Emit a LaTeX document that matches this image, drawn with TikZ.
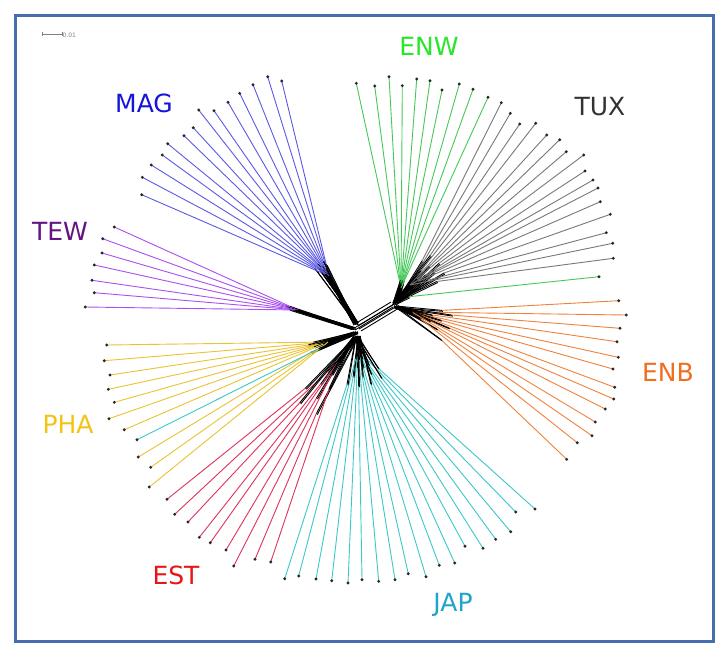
\documentclass[tikz,border=0pt]{standalone}
\usepackage{fontspec}
\setmainfont{DejaVu Sans}
\usetikzlibrary{calc}
\definecolor{magl}{RGB}{90,90,230}\definecolor{maglab}{RGB}{20,20,220}
\definecolor{tewl}{RGB}{170,80,240}\definecolor{tewlab}{RGB}{100,20,130}
\definecolor{enwl}{RGB}{70,200,90}\definecolor{enwlab}{RGB}{40,230,40}
\definecolor{tuxl}{RGB}{120,120,120}\definecolor{tuxlab}{RGB}{50,50,50}
\definecolor{enbl}{RGB}{240,130,60}\definecolor{enblab}{RGB}{240,110,30}
\definecolor{japl}{RGB}{60,200,200}\definecolor{japlab}{RGB}{30,165,200}
\definecolor{estl}{RGB}{225,50,90}\definecolor{estlab}{RGB}{235,20,20}
\definecolor{phal}{RGB}{235,195,50}\definecolor{phalab}{RGB}{245,195,20}
\definecolor{framec}{RGB}{70,110,175}
\newcommand\cladedraw[5]{%
  \foreach \tx/\ty [count=\i] in {#5}{%
    \pgfmathsetmacro\cladedist{mod(\i*3,5)*#4}%
    \pgfmathsetmacro\cladejit{(mod(\i,3)-1)*2}%
    \coordinate (t) at (\tx,\ty);
    \coordinate (q) at ($#2!\cladedist pt!(t)$);
    \draw[leaf,#1] (t) -- (q);
    \draw[bundle] (q) -- ($#3+(\cladejit,0)$);
    \draw[bundle] ($(q)+(1,1)$) -- ($#3+(\cladejit,1.5)$);
  }%
  \foreach \tx/\ty in {#5}{\fill[tipdot] (\tx,\ty) circle (1.6);}%
}
\begin{document}
\begin{tikzpicture}[x=1pt,y=-1pt,
  leaf/.style={line width=0.9pt},
  bundle/.style={black,line width=0.9pt},
  tipdot/.style={fill=black!85},
  lab/.style={inner sep=0pt,font=\fontsize{25}{25}\selectfont},
  frameline/.style={draw=framec,line width=3pt}]
\path[fill=white,use as bounding box] (0,0) rectangle (727,654);
\draw[frameline] (15,15) rectangle (713,641);
% scale bar
\coordinate (sbl) at (42,34);
\coordinate (sbr) at (62,34);
\draw[gray,line width=0.6pt] (sbl) -- (sbr);
\draw[gray,line width=0.6pt] ($(sbl)+(0,-2)$) -- ($(sbl)+(0,2)$);
\draw[gray,line width=0.6pt] ($(sbr)+(0,-2)$) -- ($(sbr)+(0,2)$);
\node[gray,anchor=west,inner sep=0.5pt,font=\fontsize{6}{6}\selectfont] (sblab) at (62,35.5) {0.01};
% central band
\foreach \dx/\dy in {-3/-2,0/0,3/2,5/4,-1/3,2/-1}{
  \draw[bundle] ($(356,327)+(\dx,\dy)$) -- ($(394,304)+(\dx,\dy)$);
}
% clades
\cladedraw{magl}{(329,276)}{(356,323)}{4}{281.7/81, 267.7/76.7, 253/84.7, 239.7/93.3, 228/102.3, 214/110.7, 198.7/110, 193.3/127.7, 184/135.7, 167.7/143.7, 162.3/155, 151.3/165, 142.3/177.3, 141.7/194.7}
\cladedraw{tewl}{(298,310)}{(354,328)}{3}{114.3/227, 102.7/238.7, 102/253, 94.3/265, 92/280.3, 94.3/292.7, 85.3/307}
\cladedraw{phal}{(328,342)}{(356,332)}{5}{106.7/345, 104.3/360.7, 110/375, 108.3/389.3, 114.3/402.3, 109/418.7, 124.3/429.7, 138.3/457, 150.7/467.3, 149.3/487}
\cladedraw{japl}{(324,346)}{(356,333)}{2}{137/439.7}
\cladedraw{estl}{(338,362)}{(356,336)}{14}{167/499.3, 174.7/514.3, 188/522, 199.3/537.3, 210.3/542.7, 226/550, 233.7/566, 255/559.3, 270.7/562}
\cladedraw{japl}{(358,350)}{(358,336)}{9}{535/509, 515.7/512, 510.7/531.7, 495.7/539.3, 483/548.3, 465/546.3, 454.7/563, 439.3/565.3, 426/576.7, 408.3/573.7, 395/579.7, 378.7/581.3, 362/579.7, 348/583, 331.7/580.7, 316/579, 298.7/576, 284.7/578.7}
\cladedraw{tuxl}{(410,285)}{(397,301)}{9}{501.3/102.7, 510.3/113.3, 519.7/124, 535.7/123.3, 546.7/135, 559.7/139.7, 566.3/151.7, 583.7/155, 585/171, 593/180, 598/188, 600.3/201.7, 610.3/214.3, 606.3/232.7, 612.7/243.3, 613.3/258.3}
\cladedraw{enwl}{(401,288)}{(395,303)}{2}{356.3/83.3, 374.7/86, 389/76.7, 402.3/85.7, 416.7/79, 430/80.7, 442/90, 459.3/84, 473/89.3, 488/97.3}
\cladedraw{enwl}{(406,297)}{(396,303)}{1}{599/276.7}
\cladedraw{enbl}{(412,312)}{(396,306)}{10}{618.7/300.7, 626.3/315, 620/328.3, 617/341.7, 618.3/357.3, 613/369, 614.7/387.3, 613.7/399, 605.3/409, 595.3/422, 592/435.7, 577.3/442.7, 566.7/459.3}
% labels
\node[lab,text=maglab] (mag) at (144,103) {MAG};
\node[lab,text=tewlab] (tew) at (60,231) {TEW};
\node[lab,text=phalab] (pha) at (68,424) {PHA};
\node[lab,text=estlab] (est) at (176,575) {EST};
\node[lab,text=japlab] (jap) at (453,605) {JAP};
\node[lab,text=enblab] (enb) at (668,372) {ENB};
\node[lab,text=tuxlab] (tux) at (600,107) {TUX};
\node[lab,text=enwlab] (enw) at (429,46) {ENW};
\end{tikzpicture}
\end{document}
